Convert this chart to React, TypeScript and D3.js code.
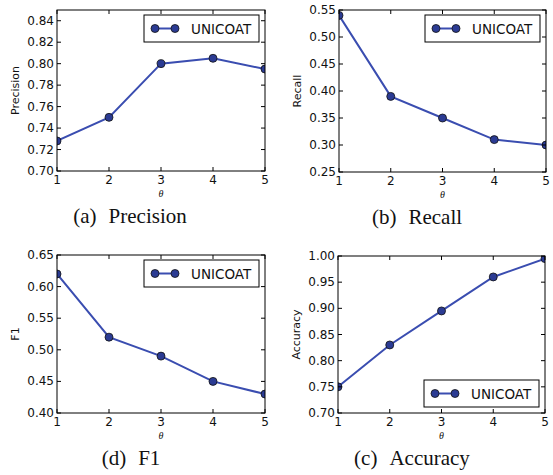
import React from "react";
import * as d3 from "d3";

const thetas = [1, 2, 3, 4, 5];
const precision = [0.728, 0.75, 0.8, 0.805, 0.795];
const recall = [0.54, 0.39, 0.35, 0.31, 0.3];
const f1 = [0.62, 0.52, 0.49, 0.45, 0.43];
const accuracy = [0.75, 0.83, 0.895, 0.96, 0.995];

const precisionTicks = [0.7, 0.72, 0.74, 0.76, 0.78, 0.8, 0.82, 0.84];
const recallTicks = [0.25, 0.3, 0.35, 0.4, 0.45, 0.5, 0.55];
const f1Ticks = [0.4, 0.45, 0.5, 0.55, 0.6, 0.65];
const accuracyTicks = [0.7, 0.75, 0.8, 0.85, 0.9, 0.95, 1.0];

const seriesName = "UNICOAT";
const lineColor = "#3a4db0";
const markerColor = "#2b3b93";
const tickFont = "'DejaVu Sans', sans-serif";

const panels = [
  { id: "a", values: precision, ticks: precisionTicks, domain: [0.7, 0.85], label: "Precision", tag: "(a)", box: [57, 10, 265, 171], legend: "top", capX: 130 },
  { id: "b", values: recall, ticks: recallTicks, domain: [0.25, 0.55], label: "Recall", tag: "(b)", box: [339, 10, 546, 172], legend: "top", capX: 417 },
  { id: "d", values: f1, ticks: f1Ticks, domain: [0.4, 0.65], label: "F1", tag: "(d)", box: [57, 255, 265, 413], legend: "top", capX: 131 },
  { id: "c", values: accuracy, ticks: accuracyTicks, domain: [0.7, 1.0], label: "Accuracy", tag: "(c)", box: [338, 256, 545, 413], legend: "bottom", capX: 412 },
];

const Panel = ({ p }) => {
  const [x0, y0, x1, y1] = p.box;
  const x = d3.scaleLinear().domain([1, 5]).range([x0, x1]);
  const y = d3.scaleLinear().domain(p.domain).range([y1, y0]);
  const line = d3.line<number>().x((d, i) => x(thetas[i])).y(d => y(d));
  const fmt = d3.format(".2f");
  const tl = 4;
  const lw = 115, lh = 27;
  const lx = x1 - 6 - lw;
  const ly = p.legend === "top" ? y0 + 5 : y1 - 6 - lh;
  const midY = (y0 + y1) / 2;
  return (
    <g>
      <defs>
        <clipPath id={"clip-" + p.id}>
          <rect x={x0} y={y0} width={x1 - x0} height={y1 - y0} />
        </clipPath>
      </defs>
      <g clipPath={`url(#clip-${p.id})`}>
        <path d={line(p.values) || ""} fill="none" stroke={lineColor} strokeWidth={2} />
        {p.values.map((v, i) => (
          <circle key={i} cx={x(thetas[i])} cy={y(v)} r={4} fill={markerColor} stroke="#111" strokeWidth={0.8} />
        ))}
      </g>
      <rect x={x0} y={y0} width={x1 - x0} height={y1 - y0} fill="none" stroke="#000" strokeWidth={1} />
      {thetas.map(t => (
        <g key={t}>
          <line x1={x(t)} x2={x(t)} y1={y1} y2={y1 - tl} stroke="#000" />
          <line x1={x(t)} x2={x(t)} y1={y0} y2={y0 + tl} stroke="#000" />
          <text x={x(t)} y={y1 + 13} textAnchor="middle" fontFamily={tickFont} fontSize={12} fill="#111">{t}</text>
        </g>
      ))}
      {p.ticks.map(t => (
        <g key={t}>
          <line x1={x0} x2={x0 + tl} y1={y(t)} y2={y(t)} stroke="#000" />
          <line x1={x1} x2={x1 - tl} y1={y(t)} y2={y(t)} stroke="#000" />
          <text x={x0 - 3} y={y(t) + 4} textAnchor="end" fontFamily={tickFont} fontSize={12} fill="#111">{fmt(t)}</text>
        </g>
      ))}
      <text transform={`translate(${x0 - 38},${midY}) rotate(-90)`} textAnchor="middle" fontFamily={tickFont} fontSize={11} fill="#111">{p.label}</text>
      <text x={(x0 + x1) / 2} y={y1 + 26} textAnchor="middle" fontFamily="'Liberation Serif', serif" fontStyle="italic" fontSize={10} fill="#111">θ</text>
      <text x={p.capX} y={y1 + 52} textAnchor="middle" fontFamily="'Liberation Serif', serif" fontSize={21} fill="#111">
        {p.tag}<tspan dx={12}>{p.label}</tspan>
      </text>
      <g>
        <rect x={lx} y={ly} width={lw} height={lh} fill="#fff" stroke="#000" strokeWidth={1} />
        <line x1={lx + 11} x2={lx + 31} y1={ly + lh / 2} y2={ly + lh / 2} stroke={lineColor} strokeWidth={2} />
        <circle cx={lx + 11} cy={ly + lh / 2} r={4} fill={markerColor} stroke="#111" strokeWidth={0.8} />
        <circle cx={lx + 31} cy={ly + lh / 2} r={4} fill={markerColor} stroke="#111" strokeWidth={0.8} />
        <text x={lx + 47} y={ly + lh / 2 + 5} fontFamily={tickFont} fontSize={13.5} fill="#111">{seriesName}</text>
      </g>
    </g>
  );
};

const App = () => (
  <svg width={553} height={475} style={{ position: "absolute", left: 0, top: 0, background: "#fff" }}>
    <rect width={553} height={475} fill="#fff" />
    {panels.map(p => <Panel key={p.id} p={p} />)}
  </svg>
);

export default App;
